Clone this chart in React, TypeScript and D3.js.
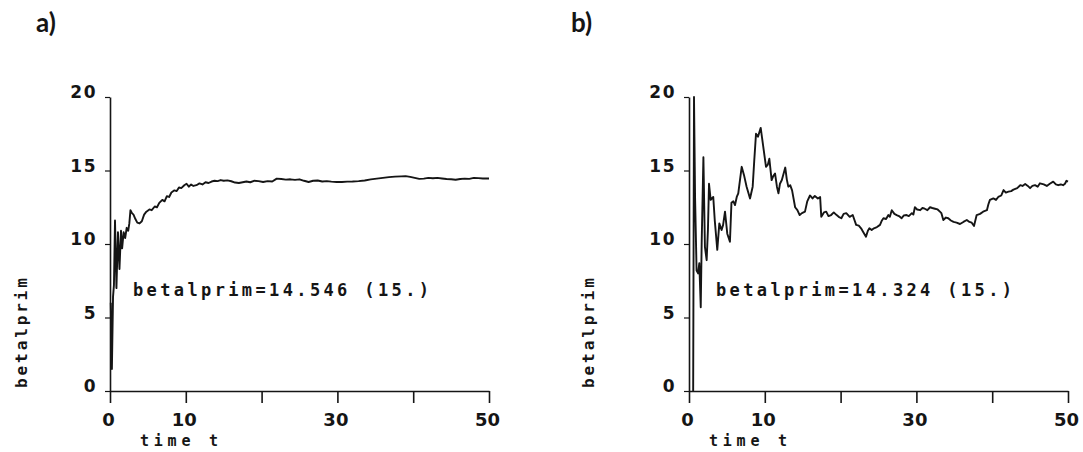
import React, { useRef, useEffect } from 'react';
import * as d3 from 'd3';

// tick values of both panels
const timeTicks = [0, 10, 20, 30, 40, 50];
const timeLabels = [0, 10, 30, 50];
const betaTicks = [0, 5, 10, 15, 20];

// panel a) : estimate of betalprim over time, [t, value]
const betaA: [number, number][] = [
	[0.1, 6.0], [0.25, 1.5], [0.4, 6.4], [0.52, 7.2], [0.66, 11.6], [0.76, 9.2], [0.85, 7.0],
	[1.05, 10.8], [1.25, 8.3], [1.45, 10.9], [1.6, 9.7], [1.8, 10.8], [2.0, 10.4], [2.2, 11.1],
	[2.4, 10.9], [2.55, 11.4], [2.7, 12.3], [2.9, 12.1], [3.1, 12.0], [3.35, 11.7], [3.6, 11.45],
	[3.9, 11.4], [4.2, 11.55], [4.5, 12.0], [4.8, 12.2], [5.2, 12.35], [5.5, 12.3], [5.9, 12.55],
	[6.2, 12.5], [6.5, 12.8], [6.9, 13.0], [7.2, 12.9], [7.5, 13.25], [7.8, 13.2], [8.1, 13.5],
	[8.5, 13.65], [8.8, 13.6], [9.1, 13.85], [9.4, 13.8], [9.8, 14.0], [10.1, 14.1], [10.4, 13.9],
	[10.7, 14.05], [11.0, 13.95], [11.4, 14.0], [11.8, 14.12], [12.2, 14.05], [12.6, 14.2],
	[13.0, 14.15], [13.4, 14.25], [13.8, 14.3], [14.2, 14.28], [14.6, 14.35], [15.0, 14.3],
	[15.5, 14.33], [16.0, 14.27], [16.5, 14.18], [17.0, 14.15], [17.5, 14.2], [18.0, 14.25],
	[18.5, 14.2], [19.0, 14.3], [19.6, 14.28], [20.2, 14.22], [20.8, 14.28], [21.4, 14.25],
	[22.0, 14.45], [22.6, 14.42], [23.2, 14.38], [23.8, 14.4], [24.4, 14.36], [25.0, 14.4],
	[25.6, 14.3], [26.2, 14.22], [26.8, 14.3], [27.4, 14.32], [28.0, 14.25], [28.6, 14.28],
	[29.2, 14.24], [29.9, 14.22], [30.6, 14.22], [31.3, 14.24], [32.0, 14.25], [32.8, 14.28],
	[33.6, 14.32], [34.4, 14.4], [35.2, 14.45], [36.0, 14.5], [36.8, 14.55], [37.6, 14.58],
	[38.4, 14.6], [39.0, 14.62], [39.6, 14.57], [40.2, 14.5], [40.8, 14.43], [41.4, 14.45],
	[42.0, 14.5], [42.6, 14.47], [43.2, 14.5], [43.8, 14.46], [44.4, 14.42], [45.0, 14.4],
	[45.6, 14.37], [46.2, 14.42], [46.8, 14.45], [47.4, 14.43], [48.0, 14.5], [48.6, 14.48],
	[49.2, 14.46], [50.0, 14.46],
];

// panel b) : estimate of betalprim over time, [t, value]
const betaB: [number, number][] = [
	[0.55, 0], [0.66, 20], [0.8, 13.2], [1.0, 8.2], [1.2, 8.0], [1.36, 8.7], [1.55, 5.7],
	[1.67, 10.0], [1.9, 15.9], [2.1, 9.8], [2.33, 8.9], [2.5, 11.0], [2.64, 14.1], [2.86, 13.0],
	[3.2, 13.2], [3.4, 11.6], [3.73, 9.6], [4.0, 11.4], [4.3, 10.95], [4.5, 11.3], [4.75, 12.2],
	[5.05, 10.7], [5.4, 10.15], [5.6, 12.8], [5.85, 12.9], [6.07, 12.65], [6.3, 13.2], [6.5, 13.45],
	[6.95, 15.25], [7.25, 14.7], [7.6, 13.9], [8.05, 13.1], [8.4, 13.9], [8.6, 15.6], [8.84, 17.5],
	[9.1, 17.3], [9.46, 17.9], [9.8, 16.6], [10.16, 15.25], [10.4, 15.4], [10.6, 15.8], [10.9, 14.35],
	[11.1, 14.6], [11.35, 14.8], [11.6, 13.9], [11.8, 13.45], [12.0, 14.1], [12.25, 14.35],
	[12.7, 15.2], [12.9, 14.4], [13.1, 13.9], [13.35, 14.0], [13.6, 13.65], [14.0, 12.5],
	[14.3, 12.3], [14.6, 11.97], [14.9, 12.1], [15.3, 12.2], [15.6, 12.9], [15.96, 13.3],
	[16.3, 13.1], [16.6, 13.27], [17.0, 13.1], [17.3, 13.2], [17.45, 11.85], [17.8, 12.15],
	[18.1, 12.2], [18.4, 11.9], [18.75, 11.97], [19.1, 12.15], [19.4, 12.0], [19.75, 11.85],
	[20.1, 11.75], [20.4, 12.05], [20.75, 12.1], [21.2, 11.85], [21.6, 11.97], [22.05, 11.3],
	[22.4, 11.25], [22.7, 11.07], [23.0, 10.8], [23.35, 10.5], [23.6, 10.9], [23.8, 11.07],
	[24.1, 10.95], [24.4, 11.07], [24.8, 11.15], [25.2, 11.3], [25.45, 11.6], [25.65, 11.75],
	[26.0, 11.7], [26.3, 11.97], [26.5, 11.85], [26.75, 12.3], [27.1, 12.05], [27.4, 11.97],
	[27.7, 11.9], [28.05, 11.75], [28.35, 11.95], [28.7, 11.97], [29.0, 11.9], [29.4, 12.1],
	[29.6, 12.0], [29.8, 12.5], [30.1, 12.35], [30.5, 12.3], [30.8, 12.45], [31.1, 12.4],
	[31.45, 12.3], [31.8, 12.5], [32.1, 12.45], [32.45, 12.4], [32.8, 12.35], [33.1, 12.2],
	[33.3, 12.1], [33.55, 11.63], [33.9, 11.8], [34.2, 11.75], [34.55, 11.6], [34.9, 11.5],
	[35.3, 11.45], [35.75, 11.36], [36.2, 11.5], [36.65, 11.63], [37.0, 11.5], [37.3, 11.45],
	[37.6, 11.22], [37.95, 11.97], [38.4, 12.05], [38.8, 12.2], [39.3, 12.3], [39.5, 12.7],
	[39.7, 13.0], [40.15, 13.1], [40.5, 13.0], [40.8, 13.2], [41.2, 13.3], [41.5, 13.67],
	[41.8, 13.5], [42.15, 13.56], [42.5, 13.6], [42.8, 13.7], [43.3, 13.8], [43.7, 14.0],
	[44.0, 13.95], [44.35, 14.08], [44.7, 13.95], [45.0, 13.8], [45.3, 13.95], [45.65, 14.0],
	[46.0, 13.9], [46.3, 14.13], [46.8, 14.05], [47.2, 13.95], [47.6, 14.1], [48.05, 14.24],
	[48.4, 14.05], [48.7, 14.0], [49.05, 14.05], [49.35, 14.0], [49.6, 14.1], [49.8, 14.3],
	[50.0, 14.25],
];

const panels = [
	{ tag: 'a)', data: betaA, estimate: 'betalprim=14.546 (15.)' },
	{ tag: 'b)', data: betaB, estimate: 'betalprim=14.324 (15.)' },
];

// layout of each panel on the page
const layout = [
	{ left: 110, tagX: 36, labelX: 21, timeX: 179, estX: 133 },
	{ left: 689, tagX: 571, labelX: 588, timeX: 748, estX: 716 },
];

const svgWidth = 1083;
const svgHeight = 452;
const plotTop = 97;
const plotBottom = 391;
const plotWidth = 379;
const mono = '"DejaVu Sans Mono", monospace';
const sans = '"DejaVu Sans", sans-serif';
const ink = '#151515';

export default function App() {
	const chart = useRef<SVGSVGElement>(null);

	useEffect(() => {
		if (!chart.current) return;
		const svg = d3.select(chart.current);
		svg.selectAll('*').remove();

		panels.forEach((panel, i) => {
			const { left, tagX, labelX, timeX, estX } = layout[i];
			const xScale = d3.scaleLinear().domain([0, 50]).range([left, left + plotWidth]);
			const yScale = d3.scaleLinear().domain([0, 20]).range([plotBottom, plotTop]);
			const g = svg.append('g');

			/* x axis: ticks every 10, labels only on some of them */
			const xAxis = d3
				.axisBottom(xScale)
				.tickValues(timeTicks)
				.tickSize(12)
				.tickSizeOuter(0)
				.tickPadding(10)
				.tickFormat((d) => (timeLabels.includes(+d) ? String(d) : ''));
			const xg = g.append('g').attr('transform', `translate(0,${plotBottom})`).call(xAxis);
			xg.select('.domain').attr('stroke', ink).attr('stroke-width', 1.6);
			xg.selectAll('line').attr('stroke', ink).attr('stroke-width', 1.6);
			xg.selectAll('text')
				.attr('fill', ink)
				.attr('dx', -2)
				.style('font-family', sans)
				.style('font-weight', 'bold')
				.style('font-size', '18px');

			/* y axis with short ticks on the left */
			const yAxis = d3.axisLeft(yScale).tickValues(betaTicks).tickSize(5).tickSizeOuter(0).tickPadding(8);
			const yg = g.append('g').attr('transform', `translate(${left},0)`).call(yAxis);
			yg.select('.domain').attr('stroke', ink).attr('stroke-width', 1.6);
			yg.selectAll('line').attr('stroke', ink).attr('stroke-width', 1.2);
			yg.selectAll('text')
				.attr('fill', ink)
				.attr('dy', '0.05em')
				.style('font-family', sans)
				.style('font-weight', 'bold')
				.style('font-size', '17px')
				.style('letter-spacing', '1.5px');

			const line = d3
				.line<[number, number]>()
				.x((d) => xScale(d[0]))
				.y((d) => yScale(d[1]));

			g.append('path')
				.datum(panel.data)
				.attr('d', line)
				.attr('fill', 'none')
				.attr('stroke', ink)
				.attr('stroke-width', 1.9)
				.attr('stroke-linejoin', 'round');

			g.append('text')
				.attr('x', estX)
				.attr('y', 296)
				.attr('textLength', 296)
				.attr('lengthAdjust', 'spacing')
				.style('font-family', mono)
				.style('font-weight', 'bold')
				.style('font-size', '17px')
				.attr('fill', ink)
				.text(panel.estimate);

			g.append('text')
				.attr('transform', `translate(${labelX},333) rotate(-90)`)
				.attr('x', -55)
				.attr('y', 6)
				.attr('textLength', 110)
				.attr('lengthAdjust', 'spacing')
				.style('font-family', mono)
				.style('font-weight', 'bold')
				.style('font-size', '16px')
				.attr('fill', ink)
				.text('betalprim');

			g.append('text')
				.attr('x', timeX - 39)
				.attr('y', 446)
				.attr('textLength', 78)
				.attr('lengthAdjust', 'spacing')
				.style('font-family', mono)
				.style('font-weight', 'bold')
				.style('font-size', '15px')
				.attr('fill', ink)
				.text('time t');

			g.append('text')
				.attr('x', tagX)
				.attr('y', 32)
				.style('font-family', 'Lato, "Open Sans", sans-serif')
				.style('font-weight', 'bold')
				.style('font-size', '26px')
				.attr('fill', ink)
				.text(panel.tag);
		});
	}, []);

	return (
		<div style={{ position: 'absolute', left: 0, top: 0, background: '#fff' }}>
			<svg ref={chart} width={svgWidth} height={svgHeight} style={{ display: 'block' }} />
		</div>
	);
}
